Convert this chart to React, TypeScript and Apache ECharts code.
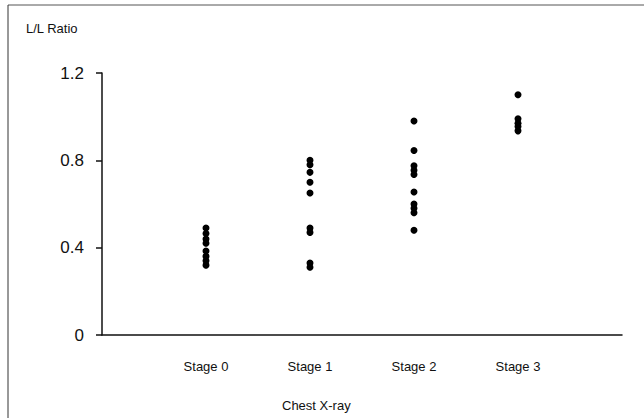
import React, { useEffect, useRef } from "react";
import * as echarts from "echarts";

const categories = ["Stage 0", "Stage 1", "Stage 2", "Stage 3"];
const stage0 = [0.49, 0.465, 0.44, 0.42, 0.385, 0.36, 0.34, 0.32];
const stage1 = [0.8, 0.78, 0.745, 0.7, 0.65, 0.49, 0.47, 0.33, 0.31];
const stage2 = [0.98, 0.845, 0.775, 0.755, 0.735, 0.655, 0.6, 0.58, 0.56, 0.48];
const stage3 = [1.1, 0.99, 0.97, 0.955, 0.935];
const yTicks = [0, 0.4, 0.8, 1.2];

const groups = [stage0, stage1, stage2, stage3];

export default function App() {
  const ref = useRef<HTMLDivElement>(null);
  useEffect(() => {
    const chart = echarts.init(ref.current!, null, { renderer: "svg" });
    const data: number[][] = [];
    groups.forEach((g, i) => g.forEach((v) => data.push([i + 1, v])));
    chart.setOption({
      animation: false,
      backgroundColor: "#fff",
      textStyle: { fontFamily: "Liberation Sans, Arial, sans-serif" },
      grid: { left: 102, right: 22, top: 73, bottom: 83 },
      graphic: [
        { type: "line", shape: { x1: 8, y1: 5, x2: 644, y2: 5 }, style: { stroke: "#555", lineWidth: 1 } },
        { type: "line", shape: { x1: 8, y1: 5, x2: 8, y2: 418 }, style: { stroke: "#333", lineWidth: 1 } },
        { type: "text", left: 26, top: 22, style: { text: "L/L Ratio", fontSize: 13, fill: "#111", fontFamily: "Liberation Sans, Arial, sans-serif" } },
        { type: "text", left: 282, top: 399, style: { text: "Chest X-ray", fontSize: 13, fill: "#111", fontFamily: "Liberation Sans, Arial, sans-serif" } },
      ],
      xAxis: {
        type: "value",
        min: 0,
        max: 5,
        interval: 1,
        splitLine: { show: false },
        axisTick: { show: false },
        axisLine: { show: true, onZero: false, lineStyle: { color: "#111", width: 1.5 } },
        axisLabel: {
          color: "#111",
          fontSize: 13,
          margin: 25,
          formatter: (v: number) => (v >= 1 && v <= 4 ? categories[v - 1] : ""),
        },
      },
      yAxis: {
        type: "value",
        min: 0,
        max: 1.2,
        interval: 0.4,
        splitLine: { show: false },
        axisLine: { show: true, lineStyle: { color: "#111", width: 1.5 } },
        axisTick: { show: true, inside: false, length: 6, lineStyle: { color: "#111", width: 1.5 } },
        axisLabel: {
          color: "#111",
          fontSize: 17,
          margin: 18,
          formatter: (v: number) => {
            const t = yTicks.find((x) => Math.abs(x - v) < 1e-6);
            return t === undefined ? "" : t === 0 ? "0" : t.toFixed(1);
          },
        },
      },
      series: [
        {
          type: "scatter",
          data,
          symbol: "circle",
          symbolSize: 7,
          itemStyle: { color: "#000", opacity: 1 },
        },
      ],
    });
    return () => chart.dispose();
  }, []);
  return <div ref={ref} style={{ width: 644, height: 418, position: "absolute", left: 0, top: 0 }} />;
}
